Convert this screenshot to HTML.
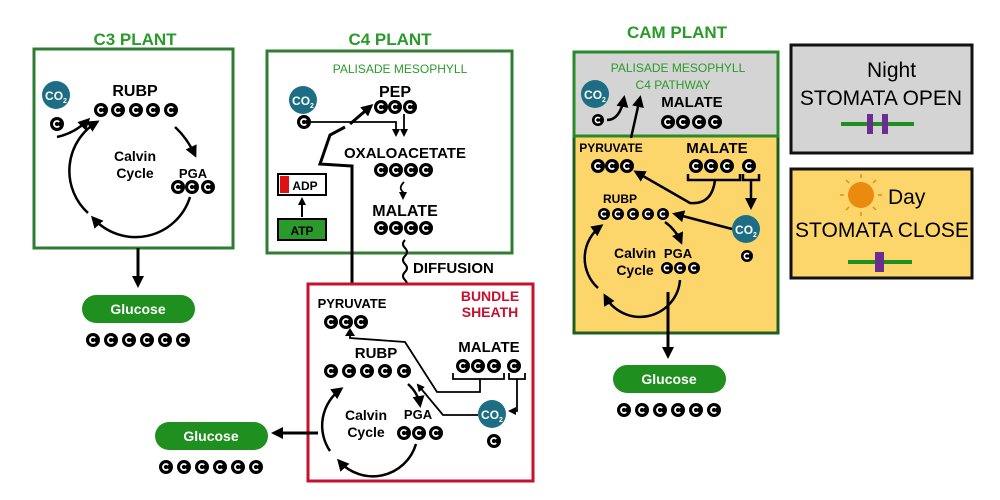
<!DOCTYPE html>
<html><head><meta charset="utf-8"><style>
html,body{margin:0;padding:0;background:#fff;}
svg{display:block;font-family:"Liberation Sans",sans-serif;font-weight:bold;}
</style></head><body>
<svg width="1000" height="500" viewBox="0 0 1000 500" xmlns="http://www.w3.org/2000/svg">
<defs>
<g id="c"><circle r="7" fill="#000"/><path d="M2.2,-2 A3,3 0 1 0 2.2,2" stroke="#fff" stroke-width="1.8" fill="none"/></g>
<g id="cs"><circle r="6" fill="#000"/><path d="M1.9,-1.7 A2.6,2.6 0 1 0 1.9,1.7" stroke="#fff" stroke-width="1.6" fill="none"/></g>
<marker id="a" markerWidth="8" markerHeight="8" refX="6" refY="4" orient="auto" markerUnits="userSpaceOnUse"><path d="M0,0 L8,4 L0,8 Z" fill="#000"/></marker>
<marker id="A" markerWidth="12" markerHeight="12" refX="9" refY="6" orient="auto" markerUnits="userSpaceOnUse"><path d="M0,0 L12,6 L0,12 Z" fill="#000"/></marker>
</defs>

<!-- C3 -->
<text x="135" y="45" font-size="17" fill="#2a9a2a" text-anchor="middle">C3 PLANT</text>
<rect x="34" y="49" width="199" height="199" fill="#fff" stroke="#2e7d32" stroke-width="3"/>
<circle cx="56" cy="95" r="14" fill="#1d6e84"/>
<text x="56" y="100" font-size="12" fill="#fff" text-anchor="middle">CO<tspan font-size="7" dy="3">2</tspan></text>
<use href="#c" x="57" y="124"/>
<text x="135" y="96" font-size="16" text-anchor="middle">RUBP</text>
<use href="#c" x="101" y="110"/><use href="#c" x="118" y="110"/><use href="#c" x="136" y="110"/><use href="#c" x="153" y="110"/><use href="#c" x="171" y="110"/>
<path d="M57,137 Q75,133 88,120" stroke="#000" stroke-width="2.5" fill="none" marker-end="url(#A)"/>
<path d="M88,213 A57,57 0 0 1 97,122" stroke="#000" stroke-width="2.5" fill="none" marker-end="url(#A)"/>
<path d="M175,127 Q187,138 195,155" stroke="#000" stroke-width="2.5" fill="none" marker-end="url(#A)"/>
<path d="M190,197 A57,57 0 0 1 93,218" stroke="#000" stroke-width="2.5" fill="none" marker-end="url(#A)"/>
<text x="135" y="161" font-size="14" text-anchor="middle">Calvin</text>
<text x="135" y="178" font-size="14" text-anchor="middle">Cycle</text>
<text x="193" y="178" font-size="13" text-anchor="middle">PGA</text>
<use href="#c" x="178" y="187"/><use href="#c" x="192" y="187"/><use href="#c" x="208" y="187"/>
<line x1="138" y1="248" x2="138" y2="285" stroke="#000" stroke-width="3" marker-end="url(#A)"/>
<rect x="82" y="295" width="113" height="28" rx="14" fill="#1f8f1f"/>
<text x="138" y="314" font-size="14" fill="#fff" text-anchor="middle">Glucose</text>
<use href="#c" x="93" y="340"/><use href="#c" x="111" y="340"/><use href="#c" x="129" y="340"/><use href="#c" x="147" y="340"/><use href="#c" x="165" y="340"/><use href="#c" x="183" y="340"/>

<!-- C4 -->
<text x="390" y="45" font-size="17" fill="#2a9a2a" text-anchor="middle">C4 PLANT</text>
<rect x="267" y="51" width="245" height="202" fill="#fff" stroke="#2e7d32" stroke-width="3"/>
<text x="400" y="73" font-size="12" fill="#2a9a2a" text-anchor="middle" font-weight="normal">PALISADE MESOPHYLL</text>
<circle cx="303" cy="100" r="14" fill="#1d6e84"/>
<text x="303" y="105" font-size="12" fill="#fff" text-anchor="middle">CO<tspan font-size="7" dy="3">2</tspan></text>
<use href="#c" x="304" y="122"/>
<text x="395" y="97" font-size="16" text-anchor="middle">PEP</text>
<use href="#c" x="381" y="107"/><use href="#c" x="395" y="107"/><use href="#c" x="410" y="107"/>
<path d="M311,122 L396,122 L396,135" stroke="#000" stroke-width="1.8" fill="none" marker-end="url(#a)"/>
<line x1="404" y1="114" x2="404" y2="135" stroke="#000" stroke-width="1.8" marker-end="url(#a)"/>
<path d="M352,283 L352,166 L320,164 L330,135 L345,127" stroke="#000" stroke-width="3" fill="none"/>
<line x1="350" y1="124" x2="371" y2="106" stroke="#000" stroke-width="3" marker-end="url(#A)"/>
<text x="405" y="158" font-size="15" text-anchor="middle">OXALOACETATE</text>
<use href="#c" x="381" y="170"/><use href="#c" x="396" y="170"/><use href="#c" x="411" y="170"/><use href="#c" x="426" y="170"/>
<path d="M404,182 Q398,188 403,192 L403,198" stroke="#000" stroke-width="1.8" fill="none" marker-end="url(#a)"/>
<text x="405" y="216" font-size="16" text-anchor="middle">MALATE</text>
<use href="#c" x="381" y="228"/><use href="#c" x="396" y="228"/><use href="#c" x="411" y="228"/><use href="#c" x="426" y="228"/>
<rect x="278" y="174" width="48" height="21" fill="#fff" stroke="#000" stroke-width="2"/>
<rect x="280" y="176" width="9" height="17" fill="#d11"/>
<text x="305" y="190" font-size="12" text-anchor="middle">ADP</text>
<rect x="278" y="219" width="48" height="21" fill="#2a9a2a" stroke="#000" stroke-width="2"/>
<text x="302" y="235" font-size="12" text-anchor="middle">ATP</text>
<line x1="302" y1="217" x2="302" y2="199" stroke="#000" stroke-width="2" marker-end="url(#a)"/>
<path d="M405,240 q-4,4 0,8 q4,4 0,8 q-4,4 0,8 q4,4 0,8 q-4,4 0,8 q4,4 0,8 q-4,4 0,8 q4,4 0,8 q-4,4 0,8 L405,318" stroke="#000" stroke-width="2" fill="none" marker-end="url(#a)"/>
<text x="413" y="273" font-size="15">DIFFUSION</text>

<rect x="308" y="284" width="225" height="197" fill="#fff" stroke="#c8102e" stroke-width="3"/>
<text x="490" y="301" font-size="14" fill="#c8102e" text-anchor="middle">BUNDLE</text>
<text x="490" y="317" font-size="14" fill="#c8102e" text-anchor="middle">SHEATH</text>
<text x="352" y="308" font-size="13" text-anchor="middle">PYRUVATE</text>
<use href="#c" x="331" y="322"/><use href="#c" x="346" y="322"/><use href="#c" x="361" y="322"/>
<text x="376" y="358" font-size="15" text-anchor="middle">RUBP</text>
<use href="#c" x="331" y="371"/><use href="#c" x="349" y="371"/><use href="#c" x="367" y="371"/><use href="#c" x="385" y="371"/><use href="#c" x="404" y="371"/>
<text x="489" y="352" font-size="15" text-anchor="middle">MALATE</text>
<use href="#c" x="463" y="366"/><use href="#c" x="478" y="366"/><use href="#c" x="494" y="366"/><use href="#c" x="514" y="366"/>
<path d="M453,373 L453,379 L504,379 L504,373 M480,379 L480,392 L437,392 L405,342 L350,338 L350,334" stroke="#000" stroke-width="1.8" fill="none"/>
<polygon points="345,336 355,336 350,328" fill="#000"/>
<path d="M509,373 L509,379 L525,379 L525,373 M517,379 L517,411 L510,411" stroke="#000" stroke-width="1.8" fill="none" marker-end="url(#a)"/>
<path d="M478,415 L443,415 L418,385" stroke="#000" stroke-width="1.8" fill="none" marker-end="url(#a)"/>
<circle cx="492" cy="414" r="14" fill="#1d6e84"/>
<text x="492" y="419" font-size="12" fill="#fff" text-anchor="middle">CO<tspan font-size="7" dy="3">2</tspan></text>
<use href="#c" x="494" y="441"/>
<text x="366" y="420" font-size="14" text-anchor="middle">Calvin</text>
<text x="366" y="437" font-size="14" text-anchor="middle">Cycle</text>
<text x="418" y="419" font-size="13" text-anchor="middle">PGA</text>
<use href="#c" x="404" y="433"/><use href="#c" x="419" y="433"/><use href="#c" x="436" y="433"/>
<path d="M330,451 A45,45 0 0 1 341,389" stroke="#000" stroke-width="2.5" fill="none" marker-end="url(#A)"/>
<path d="M408,384 Q418,393 420,405" stroke="#000" stroke-width="2.5" fill="none" marker-end="url(#A)"/>
<path d="M416,444 A45,45 0 0 1 339,461" stroke="#000" stroke-width="2.5" fill="none" marker-end="url(#A)"/>
<line x1="318" y1="433" x2="274" y2="433" stroke="#000" stroke-width="3" marker-end="url(#A)"/>
<rect x="155" y="422" width="113" height="28" rx="14" fill="#1f8f1f"/>
<text x="211" y="441" font-size="14" fill="#fff" text-anchor="middle">Glucose</text>
<use href="#c" x="166" y="467"/><use href="#c" x="184" y="467"/><use href="#c" x="202" y="467"/><use href="#c" x="220" y="467"/><use href="#c" x="238" y="467"/><use href="#c" x="256" y="467"/>

<!-- CAM -->
<text x="677" y="38" font-size="17" fill="#2a9a2a" text-anchor="middle">CAM PLANT</text>
<rect x="574" y="136" width="204" height="197" fill="#fcd56b" stroke="#1f5e1f" stroke-width="3"/>
<rect x="574" y="52" width="204" height="84" fill="#d4d4d4" stroke="#2a8a2a" stroke-width="3"/>
<text x="678" y="72" font-size="12" fill="#2a9a2a" text-anchor="middle" font-weight="normal">PALISADE MESOPHYLL</text>
<text x="673" y="89" font-size="12" fill="#2a9a2a" text-anchor="middle" font-weight="normal">C4 PATHWAY</text>
<circle cx="595" cy="94" r="14" fill="#1d6e84"/>
<text x="595" y="99" font-size="12" fill="#fff" text-anchor="middle">CO<tspan font-size="7" dy="3">2</tspan></text>
<use href="#cs" x="598" y="120"/>
<path d="M607,120 Q620,120 624,98" stroke="#000" stroke-width="2.5" fill="none" marker-end="url(#A)"/>
<line x1="631" y1="138" x2="640" y2="98" stroke="#000" stroke-width="2.5" marker-end="url(#A)"/>
<text x="692" y="107" font-size="15" text-anchor="middle">MALATE</text>
<use href="#c" x="668" y="122"/><use href="#c" x="683" y="122"/><use href="#c" x="699" y="122"/><use href="#c" x="715" y="122"/>
<text x="611" y="152" font-size="12" text-anchor="middle">PYRUVATE</text>
<use href="#c" x="598" y="166"/><use href="#c" x="612" y="166"/><use href="#c" x="627" y="166"/>
<text x="717" y="153" font-size="15" text-anchor="middle">MALATE</text>
<use href="#c" x="696" y="166"/><use href="#c" x="711" y="166"/><use href="#c" x="727" y="166"/><use href="#c" x="749" y="166"/>
<path d="M688,174 L688,180 L740,180 L740,174 M715,180 Q712,205 690,203 L636,172" stroke="#000" stroke-width="2.5" fill="none" marker-end="url(#A)"/>
<path d="M743,174 L743,180 L759,180 L759,174 M751,180 L751,207" stroke="#000" stroke-width="2.5" fill="none" marker-end="url(#A)"/>
<line x1="732" y1="229" x2="675" y2="214" stroke="#000" stroke-width="2.5" marker-end="url(#A)"/>
<circle cx="746" cy="229" r="14" fill="#1d6e84"/>
<text x="746" y="234" font-size="12" fill="#fff" text-anchor="middle">CO<tspan font-size="7" dy="3">2</tspan></text>
<use href="#cs" x="747" y="256"/>
<text x="620" y="203" font-size="12" text-anchor="middle">RUBP</text>
<use href="#cs" x="604" y="214"/><use href="#cs" x="618" y="214"/><use href="#cs" x="633" y="214"/><use href="#cs" x="648" y="214"/><use href="#cs" x="663" y="214"/>
<text x="635" y="258" font-size="14" text-anchor="middle">Calvin</text>
<text x="635" y="275" font-size="14" text-anchor="middle">Cycle</text>
<text x="678" y="258" font-size="13" text-anchor="middle">PGA</text>
<use href="#cs" x="667" y="268"/><use href="#cs" x="680" y="268"/><use href="#cs" x="694" y="268"/>
<path d="M598,288 A40,40 0 0 1 601,226" stroke="#000" stroke-width="2.5" fill="none" marker-end="url(#A)"/>
<path d="M665,222 Q676,230 681,242" stroke="#000" stroke-width="2.5" fill="none" marker-end="url(#A)"/>
<path d="M680,280 A40,40 0 0 1 605,296" stroke="#000" stroke-width="2.5" fill="none" marker-end="url(#A)"/>
<line x1="668" y1="292" x2="668" y2="356" stroke="#000" stroke-width="3" marker-end="url(#A)"/>
<rect x="613" y="365" width="113" height="28" rx="14" fill="#1f8f1f"/>
<text x="669" y="384" font-size="14" fill="#fff" text-anchor="middle">Glucose</text>
<use href="#c" x="624" y="410"/><use href="#c" x="642" y="410"/><use href="#c" x="660" y="410"/><use href="#c" x="678" y="410"/><use href="#c" x="696" y="410"/><use href="#c" x="714" y="410"/>

<!-- Night / Day -->
<rect x="791" y="45" width="181" height="108" fill="#d4d4d4" stroke="#111" stroke-width="3"/>
<path d="M858,58 A9,9 0 1 0 866,75 A7,7 0 1 1 858,58 Z" fill="#000"/>
<text x="867" y="77" font-size="21" font-weight="normal">Night</text>
<text x="881" y="105" font-size="21" font-weight="normal" text-anchor="middle">STOMATA OPEN</text>
<line x1="841" y1="124" x2="914" y2="124" stroke="#1f8f1f" stroke-width="4"/>
<rect x="867" y="114" width="6" height="20" fill="#6a2d91"/>
<rect x="882" y="114" width="6" height="20" fill="#6a2d91"/>
<rect x="791" y="169" width="181" height="109" fill="#fcd56b" stroke="#111" stroke-width="3"/>
<circle cx="861" cy="195" r="13" fill="#ea8a0f"/>
<g stroke="#ea8a0f" stroke-width="1.5">
<line x1="861" y1="174" x2="861" y2="178"/><line x1="861" y1="212" x2="861" y2="216"/>
<line x1="840" y1="195" x2="844" y2="195"/><line x1="878" y1="195" x2="882" y2="195"/>
<line x1="846" y1="180" x2="849" y2="183"/><line x1="873" y1="207" x2="876" y2="210"/>
<line x1="876" y1="180" x2="873" y2="183"/><line x1="849" y1="207" x2="846" y2="210"/>
</g>
<text x="888" y="204" font-size="21" font-weight="normal">Day</text>
<text x="882" y="237" font-size="21" font-weight="normal" text-anchor="middle">STOMATA CLOSE</text>
<line x1="848" y1="262" x2="912" y2="262" stroke="#1f8f1f" stroke-width="4"/>
<rect x="875" y="252" width="9" height="20" fill="#6a2d91"/>
</svg>
</body></html>
